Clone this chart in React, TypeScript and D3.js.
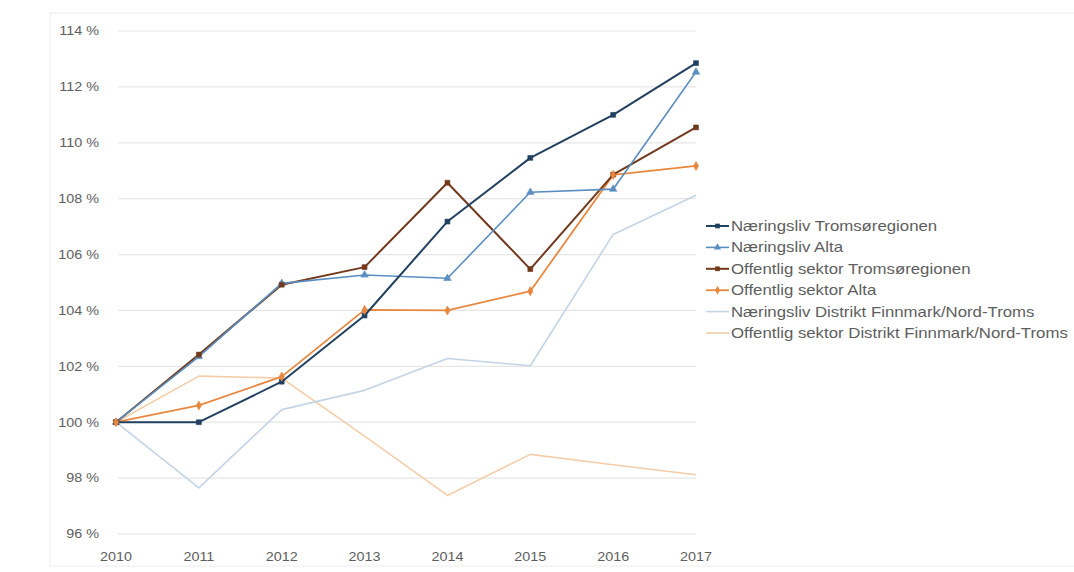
import * as d3 from "d3";

const years = [2010, 2011, 2012, 2013, 2014, 2015, 2016, 2017];
const yTicks = [96, 98, 100, 102, 104, 106, 108, 110, 112, 114];

const naeringTromso = [100, 100.0, 101.45, 103.82, 107.18, 109.46, 111.0, 112.85];
const naeringAlta = [100, 102.35, 104.97, 105.27, 105.15, 108.23, 108.34, 112.53];
const offTromso = [100, 102.42, 104.92, 105.55, 108.57, 105.48, 108.86, 110.55];
const offAlta = [100, 100.6, 101.63, 104.02, 104.0, 104.69, 108.85, 109.17];
const naeringDistrikt = [100, 97.65, 100.45, 101.14, 102.28, 102.02, 106.72, 108.12];
const offDistrikt = [100, 101.65, 101.58, 99.5, 97.38, 98.85, 98.48, 98.12];

type Series = {
  name: string;
  values: number[];
  color: string;
  width: number;
  symbol: d3.SymbolType | null;
};

const series: Series[] = [
  { name: "Næringsliv Tromsøregionen", values: naeringTromso, color: "#22405f", width: 2, symbol: d3.symbolSquare },
  { name: "Næringsliv Alta", values: naeringAlta, color: "#5b8ec0", width: 1.6, symbol: d3.symbolTriangle },
  { name: "Offentlig sektor Tromsøregionen", values: offTromso, color: "#73391c", width: 2, symbol: d3.symbolSquare },
  { name: "Offentlig sektor Alta", values: offAlta, color: "#e8883f", width: 1.8, symbol: d3.symbolDiamond },
  { name: "Næringsliv Distrikt Finnmark/Nord-Troms", values: naeringDistrikt, color: "#c3d4e6", width: 1.6, symbol: null },
  { name: "Offentlig sektor Distrikt Finnmark/Nord-Troms", values: offDistrikt, color: "#f3cda9", width: 1.6, symbol: null },
];

const W = 1074;
const H = 572;
const FONT = "'Liberation Sans', Arial, sans-serif";
const TEXT = "#5e5e5e";

export default function App() {
  // plot area
  const x = d3.scaleLinear().domain([2010, 2017]).range([116, 696]);
  const y = d3.scaleLinear().domain([96, 114]).range([534, 31]);

  const line = d3
    .line<number>()
    .x((_, i) => x(years[i]))
    .y((d) => y(d));

  const legendX = 706;
  const legendY = 226;
  const legendStep = 21.4;

  return (
    <div style={{ position: "fixed", left: 0, top: 0 }}>
      <svg width={W} height={H} style={{ display: "block", background: "#fff" }}>
        <rect x={50} y={13} width={1040} height={553} fill="none" stroke="#ececec" strokeWidth={1} />

        {/* grid + y labels */}
        {yTicks.map((t) => (
          <g key={t}>
            <line x1={118} x2={696} y1={y(t)} y2={y(t)} stroke="#e6e6e6" strokeWidth={1.2} />
            <text
              transform={`translate(99,${y(t)}) scale(1.15,1)`}
              dy="0.35em"
              textAnchor="end"
              fontFamily={FONT}
              fontSize={12.5}
              fill={TEXT}
            >
              {`${t} %`}
            </text>
          </g>
        ))}

        {/* x labels */}
        {years.map((yr) => (
          <text
            key={yr}
            transform={`translate(${x(yr)},561) scale(1.15,1)`}
            textAnchor="middle"
            fontFamily={FONT}
            fontSize={12.5}
            fill={TEXT}
          >
            {yr}
          </text>
        ))}

        {/* lines, light ones first */}
        {[...series].reverse().map((s) => (
          <path
            key={s.name}
            d={line(s.values) ?? ""}
            fill="none"
            stroke={s.color}
            strokeWidth={s.width}
            strokeLinejoin="round"
          />
        ))}

        {/* markers */}
        {series.map((s) =>
          s.symbol
            ? s.values.map((v, i) => (
                <path
                  key={s.name + i}
                  d={d3.symbol(s.symbol!, 24)() ?? ""}
                  transform={`translate(${x(years[i])},${y(v)})`}
                  fill={s.color}
                  stroke={s.color}
                  strokeWidth={0.6}
                />
              ))
            : null
        )}

        {/* legend */}
        {series.map((s, i) => {
          const ly = legendY + i * legendStep;
          return (
            <g key={s.name} transform={`translate(${legendX},${ly})`}>
              <line x1={0} x2={23} y1={0} y2={0} stroke={s.color} strokeWidth={s.width} />
              {s.symbol && (
                <path
                  d={d3.symbol(s.symbol, 22)() ?? ""}
                  transform="translate(11.5,0)"
                  fill={s.color}
                />
              )}
              <text
                transform="translate(25,0) scale(1.2,1)"
                dy="0.35em"
                fontFamily={FONT}
                fontSize={14}
                fill={TEXT}
              >
                {s.name}
              </text>
            </g>
          );
        })}
      </svg>
    </div>
  );
}
